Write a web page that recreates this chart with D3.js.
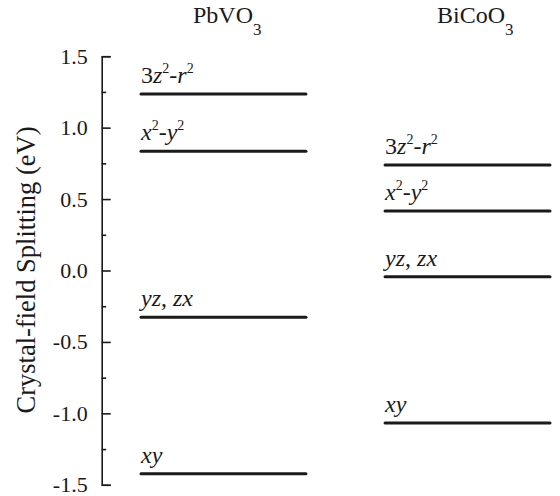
<!DOCTYPE html>
<html>
<head>
<meta charset="utf-8">
<script src="https://cdn.jsdelivr.net/npm/d3@7"></script>
<style>
  html, body { margin: 0; padding: 0; background: #fff; }
  svg { display: block; }
  svg text, svg tspan { font-family: "Liberation Serif", "Times New Roman", "DejaVu Serif", serif !important; fill: #1a1a1a; }
</style>
</head>
<body>
<svg id="chart" width="560" height="496"></svg>
<script>
// ---- data ----
const compounds = ["PbVO3", "BiCoO3"];
const orbitalLabels = ["3z^2-r^2", "x^2-y^2", "yz, zx", "xy"];
const pbvo3Levels = [1.235, 0.835, -0.327, -1.422];
const bicoo3Levels = [0.739, 0.416, -0.043, -1.068];
const majorTicks = [-1.5, -1.0, -0.5, 0.0, 0.5, 1.0, 1.5];
const minorTicks = [-1.25, -0.75, -0.25, 0.25, 0.75, 1.25];
const yTitle = "Crystal-field Splitting (eV)";

const levels = [];
compounds.forEach((c, ci) => {
  const vals = ci === 0 ? pbvo3Levels : bicoo3Levels;
  vals.forEach((v, i) => levels.push({ compound: c, label: orbitalLabels[i], value: v }));
});

const SERIF = '"Liberation Serif", "Times New Roman", serif';

// ---- scales ----
const svg = d3.select("#chart").style("font-family", SERIF);
const y = d3.scaleLinear().domain([-1.5, 1.5]).range([484.8, 56.2]);
const x = d3.scaleBand().domain(compounds).range([141, 550]).paddingInner(0.324).paddingOuter(0);
const axisX = 101.7;

// ---- axis ----
const fmt = v => d3.format(".1f")(v).replace("\u2212", "-");
const gAxis = svg.append("g").attr("transform", `translate(${axisX},0)`)
  .call(d3.axisLeft(y).tickValues(majorTicks).tickFormat(fmt)
    .tickSizeInner(-9).tickSizeOuter(-9).tickPadding(14));
gAxis.attr("font-family", null).style("font-family", SERIF);
gAxis.select(".domain").attr("stroke", "#1a1a1a").attr("stroke-width", 1.6);
gAxis.selectAll(".tick line").attr("stroke", "#1a1a1a").attr("stroke-width", 1.6);
gAxis.selectAll(".tick text").style("font-family", SERIF).style("font-size", "22px").attr("fill", "#1a1a1a");

const gMinor = svg.append("g").attr("transform", `translate(${axisX},0)`)
  .call(d3.axisLeft(y).tickValues(minorTicks).tickFormat("").tickSizeInner(-4.5).tickSizeOuter(0));
gMinor.select(".domain").remove();
gMinor.selectAll(".tick line").attr("stroke", "#1a1a1a").attr("stroke-width", 1.6);

// y title
svg.append("text")
  .attr("transform", "translate(35,270) rotate(-90)")
  .attr("text-anchor", "middle")
  .style("font-family", SERIF)
  .style("font-size", "26.5px")
  .text(yTitle);

// compound titles with subscript
compounds.forEach(c => {
  const m = c.match(/^(.*?)(\d+)$/);
  const t = svg.append("text")
    .attr("x", x(c) + 52).attr("y", 23)
    .style("font-family", SERIF)
    .style("font-size", "24px");
  t.append("tspan").text(m[1]);
  t.append("tspan").attr("dy", 12).style("font-size", "17px").text(m[2]);
});

// levels
svg.append("g").selectAll("line").data(levels).join("line")
  .attr("x1", d => x(d.compound))
  .attr("x2", d => x(d.compound) + x.bandwidth())
  .attr("y1", d => y(d.value))
  .attr("y2", d => y(d.value))
  .attr("stroke", "#1a1a1a")
  .attr("stroke-width", 3)
  .attr("stroke-linecap", "round");

// orbital labels (italic letters, upright digits/superscripts)
function addLabel(sel, s) {
  const parts = [];
  let i = 0;
  while (i < s.length) {
    if (s[i] === "^") { parts.push({ t: s[i + 1], sup: true }); i += 2; continue; }
    parts.push({ t: s[i], italic: /[a-z]/.test(s[i]) });
    i++;
  }
  let shifted = 0;
  parts.forEach(p => {
    const ts = sel.append("tspan").text(p.t).style("font-family", SERIF);
    if (p.sup) {
      ts.attr("dy", -10).style("font-size", "14px");
      shifted = 10;
    } else {
      if (shifted) { ts.attr("dy", shifted); shifted = 0; }
      if (p.italic) ts.style("font-style", "italic");
    }
  });
}
svg.append("g").selectAll("text").data(levels).join("text")
  .attr("x", d => x(d.compound))
  .attr("y", d => y(d.value) - 11)
  .style("font-family", SERIF)
  .style("font-size", "24px")
  .each(function(d) { addLabel(d3.select(this), d.label); });
</script>
</body>
</html>
